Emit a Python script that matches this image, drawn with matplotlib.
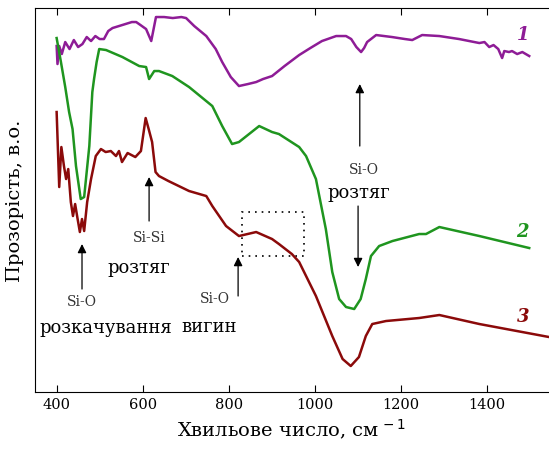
import matplotlib
matplotlib.use('Agg')
import matplotlib.pyplot as plt
from matplotlib.patches import Rectangle

# IR transmission spectra (arbitrary units)
wn_1 = [400, 402, 406, 412, 420, 430, 440, 450, 460, 470, 480, 490, 500, 510, 520, 530, 545,
        560, 575, 585, 595, 608, 620, 631, 650, 670, 690, 701, 720, 748, 770, 785, 805, 824,
        845, 864, 880, 901, 930, 964, 990, 1017, 1050, 1073, 1085, 1097, 1108, 1115, 1122,
        1143, 1180, 1210, 1227, 1250, 1290, 1336, 1383, 1395, 1406, 1416, 1427, 1436, 1441,
        1452, 1459, 1471, 1483, 1499]
tr_1 = [346, 328, 346, 338, 350, 343, 352, 345, 348, 355, 351, 356, 353, 353, 361, 364, 366,
        368, 370, 370, 367, 363, 351, 375, 375, 374, 375, 374, 366, 356, 343, 330, 315, 306,
        308, 310, 313, 316, 326, 337, 344, 351, 356, 356, 353, 345, 340, 344, 350,
        357, 355, 353, 352, 357, 356, 353, 349, 350, 345, 347, 343, 334, 341,
        340, 341, 338, 340, 336]

wn_2 = [400, 405, 410, 420, 429, 437, 445, 456, 464, 476, 483, 487, 493, 499, 515, 553, 592,
        608, 615, 627, 638, 669, 708, 762, 785, 808, 824, 871, 901, 917, 964, 980, 1003, 1026,
        1041, 1057, 1073, 1092, 1107, 1119, 1131, 1150, 1181, 1243, 1259, 1290, 1383, 1499]
tr_2 = [354, 342, 330, 305, 280, 263, 226, 193, 195, 246, 300, 313, 330, 343, 342, 335, 326,
        325, 313, 321, 321, 316, 305, 286, 266, 248, 250, 266, 260, 258, 245, 236, 213, 163,
        120, 93, 85, 83, 93, 113, 136, 146, 151, 158, 158, 165, 156, 144]

wn_3 = [400, 406, 411, 417, 422, 427, 433, 438, 443, 448, 454, 459, 464, 471, 480, 491, 503,
        514, 526, 538, 545, 552, 565, 583, 596, 607, 614, 622, 630, 638, 660, 708, 748, 762,
        794, 824, 864, 901, 917, 947, 964, 1003, 1041, 1065, 1084, 1103, 1119, 1134, 1166,
        1243, 1290, 1383, 1545]
tr_3 = [280, 205, 245, 226, 213, 223, 190, 176, 188, 175, 160, 173, 161, 190, 213, 236, 243,
        240, 241, 236, 241, 230, 239, 235, 241, 274, 263, 250, 220, 216, 211, 201, 196, 186,
        166, 156, 160, 153, 148, 138, 130, 96, 56, 33, 26, 35, 56, 68, 71,
        74, 77, 68, 55]

series = [(wn_1, tr_1, '#8e1c96', '1', 358),
          (wn_2, tr_2, '#1f951f', '2', 161),
          (wn_3, tr_3, '#8b0a0a', '3', 76)]

# band annotations: text lines, arrow tail -> head
bands = [
  ('Si-O', (459, 91), 'розкачування', (515, 65), (459, 103), (459, 148)),
  ('Si-Si', (615, 155), 'розтяг', (592, 125), (615, 171), (615, 215)),
  ('Si-O', (768, 94), 'вигин', (755, 66), (822, 96), (822, 135)),
]

plt.rcParams['font.family'] = ['DejaVu Serif']

fig = plt.figure(figsize = (5.49, 4.52), dpi = 100)
ax = fig.add_axes([0.064, 0.1305, 0.936, 0.8495])

for wn, tr, color, label, ly in series:
  ax.plot(wn, tr, color = color, linewidth = 1.8)
  ax.text(1484, ly, label, color = color, fontsize = 13, fontstyle = 'italic',
          fontweight = 'bold', ha = 'center', va = 'center')

arrow_style = dict(arrowstyle = '-|>', color = 'black', linewidth = 0.9,
                   mutation_scale = 13, shrinkA = 0, shrinkB = 0)

for small, small_pos, big, big_pos, tail, head in bands:
  ax.text(small_pos[0], small_pos[1], small, fontsize = 10, color = '#333333',
          ha = 'center', va = 'center')
  ax.text(big_pos[0], big_pos[1], big, fontsize = 13, color = 'black',
          ha = 'center', va = 'center')
  ax.annotate('', xy = head, xytext = tail, arrowprops = arrow_style)

# Si-O stretching, shared by spectra 1 and 2
ax.text(1115, 223, 'Si-O', fontsize = 10, color = '#333333', ha = 'center', va = 'center')
ax.text(1103, 200, 'розтяг', fontsize = 13, color = 'black', ha = 'center', va = 'center')
ax.annotate('', xy = (1105, 308), xytext = (1105, 246), arrowprops = arrow_style)
ax.annotate('', xy = (1101, 125), xytext = (1101, 186), arrowprops = arrow_style)

# dotted box around the bending shoulder
ax.add_patch(Rectangle((831, 136), 145, 44, fill = False, edgecolor = 'black',
                       linestyle = (0, (1, 3)), linewidth = 1.2))

ax.set_xlim(350, 1545)
ax.set_ylim(0, 384)
ax.set_xticks([400, 600, 800, 1000, 1200, 1400])
ax.set_yticks([])
ax.tick_params(axis = 'x', direction = 'in', top = True, length = 5, labelsize = 10.5)
ax.spines['right'].set_visible(False)

ax.set_xlabel('Хвильове число, см$^{\\,-1}$', fontsize = 14, labelpad = 4)
ax.set_ylabel('Прозорість, в.о.', fontsize = 14, labelpad = 8)

fig.savefig('out.png', dpi = 100)
